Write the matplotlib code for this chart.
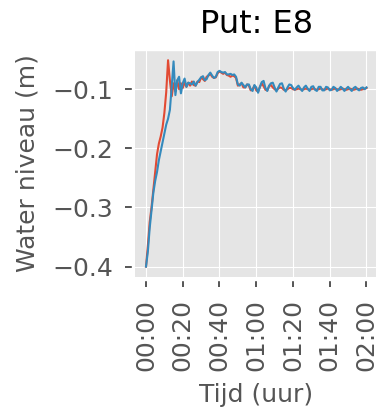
import numpy as np
import matplotlib
matplotlib.use("Agg")
import matplotlib.pyplot as plt
from matplotlib.ticker import MultipleLocator, FuncFormatter

plt.style.use("ggplot")
plt.rcParams["font.size"] = 18

# tijd in minuten vanaf start
tijd = np.arange(0, 121)

# gemeten waterniveau (rood)
niveau_a = [
    -0.400, -0.365, -0.325, -0.300, -0.270, -0.240, -0.210, -0.192, -0.180, -0.165,
    -0.140, -0.105, -0.051, -0.085, -0.112, -0.090, -0.104, -0.085, -0.100, -0.090,
    -0.098, -0.088, -0.096, -0.089, -0.094, -0.087, -0.093, -0.094, -0.087, -0.088,
    -0.080, -0.083, -0.086, -0.079, -0.077, -0.074, -0.079, -0.081, -0.080, -0.073,
    -0.070, -0.072, -0.074, -0.072, -0.076, -0.077, -0.079, -0.077, -0.078, -0.081,
    -0.094, -0.092, -0.090, -0.097, -0.097, -0.092, -0.094, -0.102, -0.100, -0.094,
    -0.102, -0.104, -0.096, -0.090, -0.095, -0.101, -0.102, -0.095, -0.093, -0.097,
    -0.100, -0.102, -0.099, -0.097, -0.098, -0.101, -0.102, -0.100, -0.098, -0.098,
    -0.100, -0.101, -0.100, -0.099, -0.100, -0.101, -0.100, -0.099, -0.100, -0.101,
    -0.100, -0.099, -0.100, -0.101, -0.100, -0.099, -0.100, -0.101, -0.100, -0.099,
    -0.100, -0.101, -0.100, -0.099, -0.100, -0.101, -0.100, -0.099, -0.100, -0.101,
    -0.100, -0.099, -0.100, -0.101, -0.100, -0.099, -0.100, -0.101, -0.100, -0.099,
    -0.098,
]

# gemeten waterniveau (blauw)
niveau_b = [
    -0.400, -0.375, -0.335, -0.305, -0.275, -0.255, -0.240, -0.220, -0.205, -0.190,
    -0.175, -0.160, -0.150, -0.135, -0.095, -0.053, -0.110, -0.085, -0.079, -0.107,
    -0.090, -0.082, -0.096, -0.089, -0.090, -0.092, -0.087, -0.094, -0.088, -0.084,
    -0.080, -0.078, -0.085, -0.083, -0.076, -0.072, -0.077, -0.081, -0.079, -0.071,
    -0.069, -0.071, -0.072, -0.071, -0.075, -0.075, -0.074, -0.076, -0.075, -0.079,
    -0.092, -0.094, -0.089, -0.093, -0.097, -0.092, -0.092, -0.100, -0.103, -0.093,
    -0.097, -0.106, -0.096, -0.088, -0.086, -0.098, -0.103, -0.094, -0.090, -0.089,
    -0.097, -0.104, -0.097, -0.091, -0.090, -0.099, -0.104, -0.097, -0.092, -0.093,
    -0.098, -0.101, -0.097, -0.094, -0.099, -0.103, -0.097, -0.094, -0.099, -0.103,
    -0.096, -0.095, -0.101, -0.103, -0.096, -0.096, -0.102, -0.102, -0.096, -0.097,
    -0.102, -0.101, -0.096, -0.098, -0.103, -0.100, -0.096, -0.099, -0.103, -0.099,
    -0.096, -0.100, -0.103, -0.098, -0.096, -0.100, -0.102, -0.098, -0.097, -0.100,
    -0.097,
]

fig = plt.figure(figsize=(3.76, 4.09), dpi=100)
ax = fig.add_axes([0.359, 0.323, 0.645, 0.555])

ax.plot(tijd, niveau_a)
ax.plot(tijd, niveau_b)

ax.xaxis.set_major_locator(MultipleLocator(20))
ax.xaxis.set_major_formatter(FuncFormatter(lambda m, pos: "%02d:%02d" % (int(m) // 60, int(m) % 60)))
ax.yaxis.set_major_locator(MultipleLocator(0.1))
ax.yaxis.set_major_formatter(FuncFormatter(lambda v, pos: "\u2212%.1f" % abs(v) if v < 0 else "%.1f" % v))

# ticks een stukje los van de as, zoals in het origineel
for kant in ["left", "bottom"]:
    ax.spines[kant].set_position(("outward", 2.2))
ax.tick_params(labelsize=18, length=5, width=1.4, pad=8.6)
plt.setp(ax.get_xticklabels(), rotation=90)

ax.set_title("Put: E8", fontsize=23, pad=12)
ax.set_xlabel("Tijd (uur)", fontsize=18, labelpad=9)
ax.set_ylabel("Water niveau (m)", fontsize=18, labelpad=9)

fig.savefig("out.png", dpi=100)
